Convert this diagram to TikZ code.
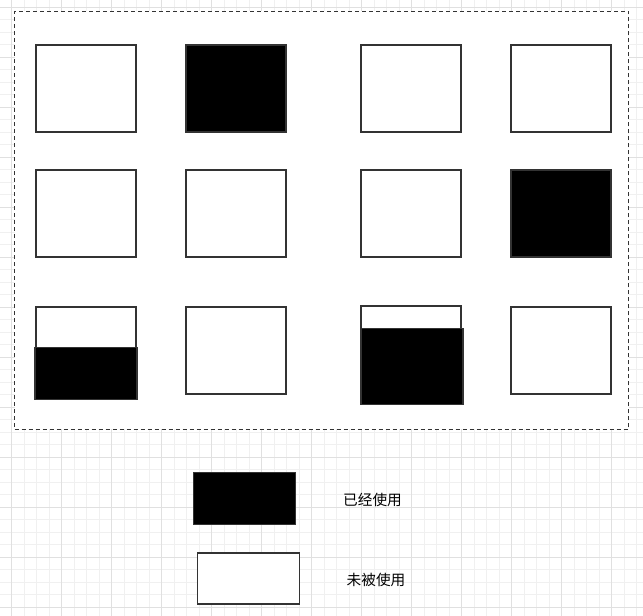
\documentclass[tikz,border=0pt]{standalone}
\usepackage{fontspec}
\newfontfamily\cjk{Noto Sans CJK SC}
\definecolor{gridmajor}{HTML}{E0E0E0}
\definecolor{gridminor}{HTML}{F0F0F0}
\definecolor{edgegray}{HTML}{333333}
\begin{document}
\begin{tikzpicture}[x=0.75pt,y=-0.75pt,
  cell/.style={draw=edgegray, line width=1pt, anchor=north west, inner sep=0pt, outer sep=0pt,
    minimum width=75pt, minimum height=65.25pt, fill=white},
  used/.style={fill=black},
  filler/.style={draw=edgegray, line width=1pt, fill=black, anchor=north west, inner sep=0pt, outer sep=0pt},
  label/.style={font=\cjk\fontsize{11pt}{13pt}\selectfont, anchor=center, inner sep=0pt}]
\useasboundingbox (0,0) rectangle (643,616);
\fill[white] (0,0) rectangle (643,616);
% grid
\foreach \i in {0,...,51} {
  \pgfmathsetmacro{\gx}{11.7+12.5*(\i-1)}
  \draw[gridminor, line width=0.75pt] (\gx,0) -- (\gx,616);
}
\foreach \i in {0,...,49} {
  \pgfmathsetmacro{\gy}{7.3+12.5*(\i-1)}
  \draw[gridminor, line width=0.75pt] (0,\gy) -- (643,\gy);
}
\foreach \gx in {11.7,61.7,...,611.7} \draw[gridmajor, line width=0.75pt] (\gx,0) -- (\gx,616);
\foreach \gy in {7.3,57.3,...,607.3} \draw[gridmajor, line width=0.75pt] (0,\gy) -- (643,\gy);
% container
\node[draw=edgegray, line width=1pt, dash pattern=on 3pt off 2.25pt, fill=white, anchor=north west,
  inner sep=0pt, outer sep=0pt, minimum width=460.5pt, minimum height=313.5pt] (frame) at (14.5,11.5) {};
% row 1
\node[cell] (a1) at (36,45) {};
\node[cell, used] (a2) at (186,45) {};
\node[cell] (a3) at (361,45) {};
\node[cell] (a4) at (511,45) {};
% row 2
\node[cell] (b1) at (36,170) {};
\node[cell] (b2) at (186,170) {};
\node[cell] (b3) at (361,170) {};
\node[cell, used] (b4) at (511,170) {};
% row 3
\node[cell] (c1) at (36,307) {};
\node[filler, minimum width=76.5pt, minimum height=39pt] (c1f) at (35,347.5) {};
\node[cell] (c2) at (186,307) {};
\node[cell] (c3) at (361,306) {};
\node[filler, minimum width=76.5pt, minimum height=57pt] (c3f) at (361,328.5) {};
\node[cell] (c4) at (511,307) {};
% legend
\node[filler, minimum width=76.5pt, minimum height=39pt] (lu) at (193.5,472.5) {};
\node[cell, minimum width=76.5pt, minimum height=38.25pt] (lf) at (197.5,553) {};
\node[label] (tu) at (372.5,499.5) {已经使用};
\node[label] (tf) at (376,579.5) {未被使用};
\end{tikzpicture}
\end{document}
